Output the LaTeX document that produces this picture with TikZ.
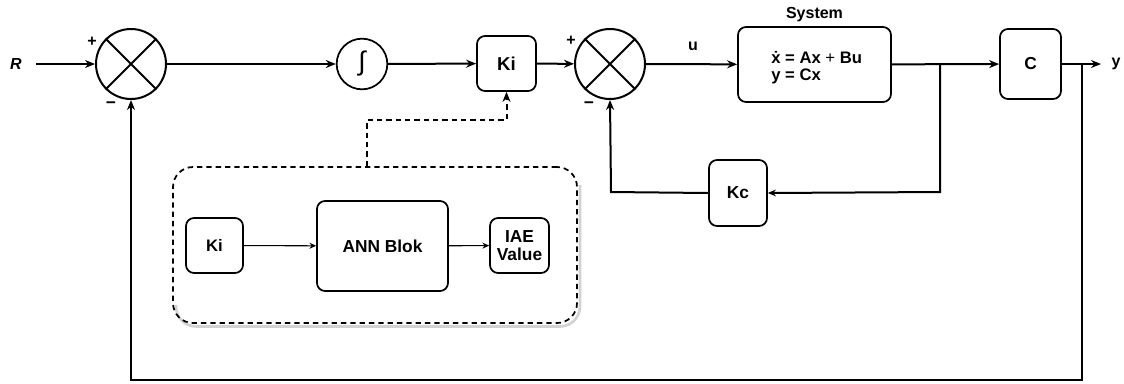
\documentclass[tikz,border=0pt]{standalone}
\usepackage{fontspec}
\setmainfont{Liberation Sans}
\usetikzlibrary{arrows.meta,calc}
\begin{document}
\begin{tikzpicture}[x=0.75pt,y=-0.75pt,
  font=\fontsize{12}{14}\selectfont\bfseries,
  wire/.style={line width=1.5pt},
  arr/.style={wire,-{Stealth[length=7.5pt,width=6pt]}},
  thinarr/.style={line width=0.8pt,-{Stealth[length=5pt,width=4.5pt]}},
  blk/.style={draw,line width=1.3pt,rounded corners=6pt,align=center,inner sep=0pt},
  sumnode/.style={draw,circle,line width=1.5pt,minimum size=52.5pt,inner sep=0pt},
  lbl/.style={inner sep=0pt},
  dsh/.style={dash pattern=on 4pt off 3pt}]
\useasboundingbox (0,0) rectangle (1124,383);
% summing junctions
\node[sumnode] (s1) at (131,64) {};
\draw[wire] (s1.north east) -- (s1.south west) (s1.north west) -- (s1.south east);
\node[sumnode] (s2) at (610,64) {};
\draw[wire] (s2.north east) -- (s2.south west) (s2.north west) -- (s2.south east);
\node[lbl] (p1) at (92,42) {+};
\node[lbl] (m1) at (111,105) {\fontsize{13}{14}\selectfont −};
\node[lbl] (p2) at (571,41) {+};
\node[lbl] (m2) at (589,105) {\fontsize{13}{14}\selectfont −};
% integrator
\node[draw,circle,line width=1.3pt,minimum size=38pt,inner sep=0pt] (int) at (362,64) {\fontsize{20}{22}\selectfont\mdseries ∫};
% blocks
\node[blk,minimum width=44.25pt,minimum height=41.25pt,font=\fontsize{14}{16}\selectfont\bfseries] (ki) at (506.5,63.5) {Ki};
\node[blk,minimum width=114.75pt,minimum height=56.25pt] (sys) at (814.5,64.5) {};
\node[lbl,align=left,anchor=west,font=\fontsize{12.5}{13}\selectfont\bfseries] (eq) at (771,68) {\.{x} = Ax {\mdseries+} Bu\\y = Cx};
\node[lbl] (systxt) at (814.5,15) {System};
\node[blk,minimum width=45.75pt,minimum height=52.5pt,font=\fontsize{13}{15}\selectfont\bfseries] (C) at (1030.5,64) {C};
\node[blk,minimum width=43.5pt,minimum height=49.5pt,font=\fontsize{13}{15}\selectfont\bfseries] (kc) at (738,193) {Kc};
% inputs/outputs
\node[lbl] (R) at (16,64) {\itshape R};
\coordinate (Rs) at (36,64);
\node[lbl] (u) at (693,46) {u};
\node[lbl] (y) at (1116,64) {y};
\coordinate (yend) at (1101,64);
\coordinate (b1) at (940,64);
\coordinate (b2) at (1082,64);
\coordinate (b1d) at (940,192);
\coordinate (kcl) at (611,192);
\coordinate (bot1) at (1082,380);
\coordinate (bot2) at (131,380);
% ANN dashed container
\draw[gray!35,line width=2pt,rounded corners=15pt] (176,305) -- (176,326.5) -- (580,326.5) -- (580,185);
\node[draw,dsh,line width=1.3pt,rounded corners=15pt,minimum width=303pt,minimum height=117pt,inner sep=0pt,fill=none] (ann) at (375,245) {};
\node[blk,minimum width=42.75pt,minimum height=41.25pt,font=\fontsize{12.5}{15}\selectfont\bfseries] (ki2) at (214.5,245.5) {Ki};
\node[blk,minimum width=98.25pt,minimum height=67.5pt,font=\fontsize{13}{15}\selectfont\bfseries] (annb) at (382.5,246) {ANN Blok};
\node[blk,minimum width=44.25pt,minimum height=41.25pt,font=\fontsize{13}{14}\selectfont\bfseries] (iae) at (519.5,245.5) {IAE\\[-1pt]Value};
\coordinate (d1) at (367,120);
\coordinate (d2) at (506.5,120);
% connectors
\draw[arr] (Rs) -- (s1);
\draw[arr] (s1) -- (int);
\draw[arr] (int) -- (ki);
\draw[arr] (ki) -- (s2);
\draw[arr] (s2) -- (sys);
\draw[arr] (sys) -- (C);
\draw[arr] (C) -- (yend);
\draw[arr] (b2) -- (bot1) -- (bot2) -- (s1.south);
\draw[wire,-{Stealth[open,length=6pt,width=5pt]}] (b1) -- (b1d) -- (kc.east);
\draw[arr] (kc.west) -- (kcl) -- (s2.south);
\draw[wire,dsh,-{Stealth[length=7.5pt,width=6pt]}] (ann.north -| 367,0) -- (d1) -- (d2) -- (ki.south);
\draw[thinarr] (ki2) -- (annb);
\draw[thinarr] (annb) -- (iae);
\end{tikzpicture}
\end{document}
